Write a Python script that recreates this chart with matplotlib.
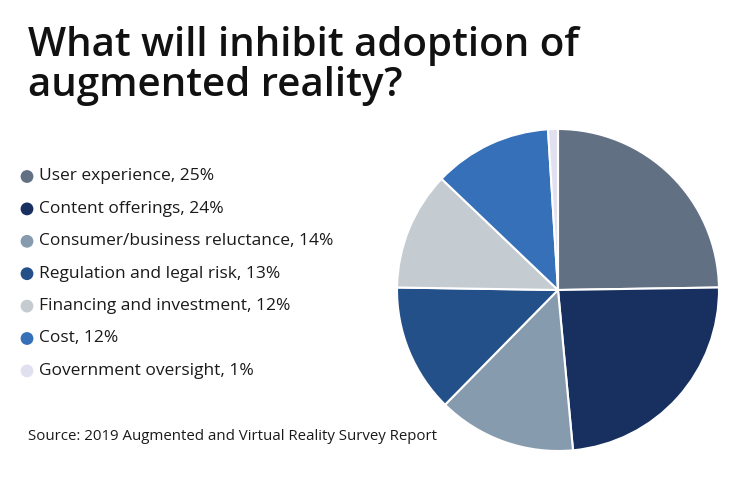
import matplotlib.pyplot as plt

# data
labels = ['User experience', 'Content offerings', 'Consumer/business reluctance',
          'Regulation and legal risk', 'Financing and investment', 'Cost',
          'Government oversight']
shares = [25, 24, 14, 13, 12, 12, 1]
colors = ['#627083', '#18305f', '#869bae', '#24508a', '#c4ccd1', '#3570b8', '#e0e0f0']

title = 'What will inhibit adoption of\naugmented reality?'
source = 'Source: 2019 Augmented and Virtual Reality Survey Report'

plt.rcParams['font.family'] = ['Open Sans', 'DejaVu Sans']
W, H = 740, 482
fig = plt.figure(figsize=(W / 100, H / 100), dpi=100)
fig.patch.set_facecolor('white')

# overlay in pixel coords for text and legend
bg = fig.add_axes([0, 0, 1, 1])
bg.set_xlim(0, W)
bg.set_ylim(H, 0)
bg.axis('off')

bg.text(28, 26, title, fontsize=29, fontweight='semibold', color='#111111',
        va='top', ha='left', linespacing=1.0)

y0, dy = 176.5, 32.4
for i, (lab, val, c) in enumerate(zip(labels, shares, colors)):
    y = y0 + i * dy
    bg.scatter([27], [y], s=85, color=c, edgecolors='none')
    bg.text(39, y, f'{lab}, {val}%', fontsize=12.5, color='#1a1a1a',
            va='center', ha='left')

bg.text(28, 437, source, fontsize=10.8, color='#1a1a1a', va='center', ha='left')

# pie
cx, cy, r = 558, 290, 161
ax = fig.add_axes([(cx - r) / W, (H - cy - r) / H, 2 * r / W, 2 * r / H])
ax.pie(shares, colors=colors, startangle=90, counterclock=False,
       wedgeprops=dict(edgecolor='white', linewidth=1.5))
ax.set_xlim(-1, 1)
ax.set_ylim(-1, 1)
ax.axis('off')

fig.savefig('out.png', dpi=100, facecolor='white')
